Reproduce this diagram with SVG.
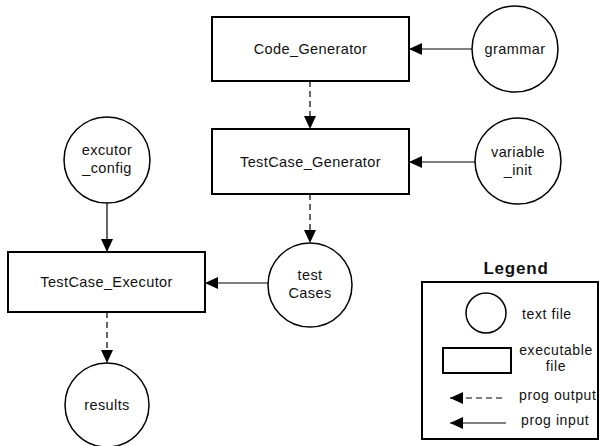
<svg xmlns="http://www.w3.org/2000/svg" width="602" height="446" viewBox="0 0 602 446">
<style>
text{font-family:"Liberation Sans",Arial,sans-serif;font-size:14.5px;fill:#111;text-anchor:middle;letter-spacing:0.4px}
.box{fill:#fff;stroke:#000;stroke-width:2}
.file{fill:#fff;stroke:#000;stroke-width:1.5}
.in{stroke:#000;stroke-width:1.2;fill:none}
.out{stroke:#000;stroke-width:1.2;fill:none;stroke-dasharray:6,4}
.leg{font-size:14px;text-anchor:start;letter-spacing:0.6px}
</style>
<defs>
<marker id="ah" markerWidth="13" markerHeight="12" refX="13" refY="6" orient="auto" markerUnits="userSpaceOnUse">
<path d="M0,0 L13,6 L0,12 Z" fill="#000"/>
</marker>
</defs>
<g id="connectors">
<line class="in" x1="472" y1="49" x2="409" y2="49" marker-end="url(#ah)"/>
<line class="out" x1="310" y1="81" x2="310" y2="129" marker-end="url(#ah)"/>
<line class="in" x1="475" y1="162" x2="409" y2="162" marker-end="url(#ah)"/>
<line class="out" x1="310" y1="194" x2="310" y2="243" marker-end="url(#ah)"/>
<line class="in" x1="107" y1="203" x2="107" y2="252" marker-end="url(#ah)"/>
<line class="in" x1="268" y1="283" x2="205" y2="283" marker-end="url(#ah)"/>
<line class="out" x1="107" y1="312" x2="107" y2="363" marker-end="url(#ah)"/>
</g>
<g id="code_generator"><rect class="box" x="212" y="17" width="197" height="64"/><text x="310.5" y="54">Code_Generator</text></g>
<g id="grammar"><circle class="file" cx="515" cy="49" r="43"/><text x="515" y="54">grammar</text></g>
<g id="testcase_generator"><rect class="box" x="212" y="129" width="197" height="65"/><text x="310.5" y="167">TestCase_Generator</text></g>
<g id="variable_init"><circle class="file" cx="518" cy="161" r="43"/><text x="518" y="157">variable</text><text x="518" y="175">_init</text></g>
<g id="excutor_config"><circle class="file" cx="107" cy="160" r="43"/><text x="107" y="155">excutor</text><text x="107" y="173">_config</text></g>
<g id="testcase_executor"><rect class="box" x="8" y="252" width="197" height="60"/><text x="106.5" y="287">TestCase_Executor</text></g>
<g id="test_cases"><circle class="file" cx="310" cy="285" r="42"/><text x="310" y="280">test</text><text x="310" y="298">Cases</text></g>
<g id="results"><circle class="file" cx="107" cy="405" r="42"/><text x="107" y="410">results</text></g>
<g id="legend">
<text x="516" y="274" style="font-weight:bold;font-size:17px;letter-spacing:0.8px">Legend</text>
<rect x="422" y="282" width="176" height="157" fill="#fff" stroke="#000" stroke-width="2"/>
<circle class="file" cx="486" cy="313" r="20"/>
<text class="leg" x="522" y="319">text file</text>
<rect x="443" y="348" width="68" height="25" fill="#fff" stroke="#000" stroke-width="2"/>
<text x="556" y="355" style="font-size:14px;letter-spacing:0.6px">executable</text>
<text x="556" y="371" style="font-size:14px;letter-spacing:0.6px">file</text>
<line class="out" x1="502" y1="398" x2="450" y2="398" marker-end="url(#ah)"/>
<text class="leg" x="519" y="400">prog output</text>
<line class="in" x1="506" y1="423" x2="450" y2="423" marker-end="url(#ah)"/>
<text class="leg" x="521" y="425">prog input</text>
</g>
</svg>
